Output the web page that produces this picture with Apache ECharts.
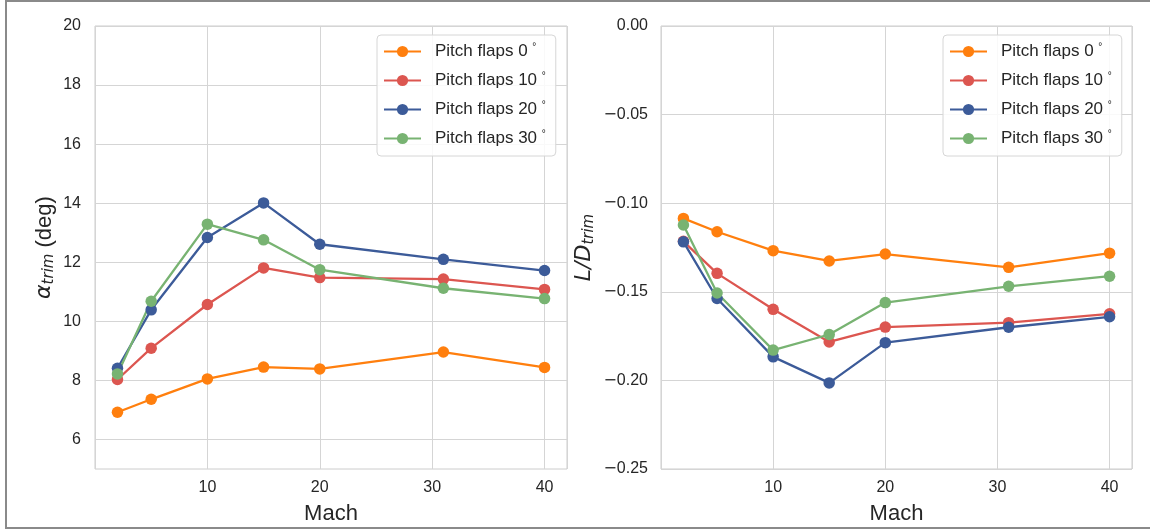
<!DOCTYPE html>
<html>
<head>
<meta charset="utf-8">
<script src="https://cdn.jsdelivr.net/npm/echarts@6/dist/echarts.min.js"></script>
<style>
  html, body { margin: 0; padding: 0; background: #fff; }
  #chart { width: 1150px; height: 531px; }
  #frame { position: absolute; left: 5px; top: 0; width: 1150px; height: 529px;
           border-top: 2px solid #8a8a8a; border-left: 2px solid #8a8a8a; border-bottom: 2px solid #8a8a8a;
           box-sizing: border-box; pointer-events: none; }
</style>
</head>
<body>
<div id="chart"></div>
<div id="frame"></div>
<script>
// ---- data ----
const mach = [2, 5, 10, 15, 20, 31, 40];
const seriesNames = ['Pitch flaps 0 °', 'Pitch flaps 10 °', 'Pitch flaps 20 °', 'Pitch flaps 30 °'];
const alpha0  = [6.92, 7.36, 8.05, 8.45, 8.39, 8.96, 8.44];
const alpha10 = [8.03, 9.09, 10.57, 11.81, 11.48, 11.43, 11.08];
const alpha20 = [8.41, 10.39, 12.84, 14.01, 12.61, 12.10, 11.72];
const alpha30 = [8.22, 10.68, 13.29, 12.76, 11.75, 11.12, 10.77];
const ld0  = [-0.1086, -0.1161, -0.1268, -0.1326, -0.1287, -0.1362, -0.1282];
const ld10 = [-0.1215, -0.1396, -0.1599, -0.1783, -0.1699, -0.1674, -0.1624];
const ld20 = [-0.1218, -0.1538, -0.1867, -0.2014, -0.1787, -0.1700, -0.1641];
const ld30 = [-0.1123, -0.1507, -0.1829, -0.1741, -0.1561, -0.1469, -0.1412];
const alphaTicks = [6, 8, 10, 12, 14, 16, 18, 20];
const machTicks = [10, 20, 30, 40];

// ---- styling ----
const colors = ['#ff7f0e', '#dc5650', '#3c5b99', '#78b372'];
const gridColor = '#d5d5d5';
const textColor = '#262626';
const font = 'Liberation Sans, Arial, sans-serif';
const mathFont = 'DejaVu Sans';

const alphaData = [alpha0, alpha10, alpha20, alpha30];
const ldData = [ld0, ld10, ld20, ld30];

function pairs(xs, ys) { return xs.map((x, i) => [x, ys[i]]); }

const xAxisBase = {
  type: 'value', min: 0, max: 42, interval: 10,
  name: 'Mach', nameLocation: 'middle', nameGap: 34,
  nameTextStyle: { fontFamily: font, fontSize: 22, color: textColor },
  axisLine: { show: false }, axisTick: { show: false },
  axisLabel: { fontFamily: font, fontSize: 16, color: textColor, margin: 11,
               formatter: v => (machTicks.indexOf(v) >= 0 ? String(v) : '') },
  splitLine: { show: true, lineStyle: { color: gridColor, width: 1 } }
};

const legendBase = {
  orient: 'vertical', top: 35,
  itemWidth: 37, itemHeight: 14, itemGap: 11,
  padding: [7, 10, 9, 6],
  backgroundColor: 'rgba(255,255,255,0.85)', borderColor: '#d6d6d6', borderWidth: 1, borderRadius: 4,
  textStyle: { fontFamily: font, fontSize: 17, color: textColor, padding: [0, 0, 0, 9],
               rich: { sup: { fontFamily: font, fontSize: 10, color: textColor, padding: [0, 0, 9, 0] } } },
  formatter: name => name.replace('°', '{sup|°}')
};

const series = [];
alphaData.forEach((d, i) => series.push({
  name: seriesNames[i], type: 'line', xAxisIndex: 0, yAxisIndex: 0,
  data: pairs(mach, d), symbol: 'circle', symbolSize: 11.5,
  color: colors[i], lineStyle: { width: 2.3, color: colors[i] }, itemStyle: { color: colors[i] }
}));
ldData.forEach((d, i) => series.push({
  name: seriesNames[i], type: 'line', xAxisIndex: 1, yAxisIndex: 1,
  data: pairs(mach, d), symbol: 'circle', symbolSize: 11.5,
  color: colors[i], lineStyle: { width: 2.3, color: colors[i] }, itemStyle: { color: colors[i] }
}));

const option = {
  animation: false,
  backgroundColor: '#ffffff',
  grid: [
    { left: 95, right: 583, top: 26, bottom: 62, show: true, borderColor: '#cccccc', borderWidth: 1, backgroundColor: 'transparent' },
    { left: 661, right: 18, top: 26, bottom: 62, show: true, borderColor: '#cccccc', borderWidth: 1, backgroundColor: 'transparent' }
  ],
  legend: [
    Object.assign({}, legendBase, { left: 377 }),
    Object.assign({}, legendBase, { left: 943 })
  ],
  xAxis: [
    Object.assign({}, xAxisBase, { gridIndex: 0 }),
    Object.assign({}, xAxisBase, { gridIndex: 1 })
  ],
  yAxis: [
    {
      type: 'value', gridIndex: 0, min: 5, max: 20,
      name: '{a|α}{s|trim}{b| (deg)}', nameLocation: 'middle', nameGap: 38, nameRotate: 90,
      nameTextStyle: { color: textColor, rich: {
        a: { fontFamily: mathFont, fontStyle: 'italic', fontSize: 22, color: textColor },
        s: { fontFamily: mathFont, fontStyle: 'italic', fontSize: 15, color: textColor, padding: [10, 0, 0, 0] },
        b: { fontFamily: font, fontSize: 22, color: textColor }
      } },
      axisLine: { show: false },
      axisTick: { show: false, customValues: alphaTicks },
      axisLabel: { fontFamily: font, fontSize: 16, color: textColor, margin: 14, customValues: alphaTicks },
      splitLine: { show: true, lineStyle: { color: gridColor, width: 1 } }
    },
    {
      type: 'value', gridIndex: 1, min: -0.25, max: 0, interval: 0.05,
      name: '{a|L/D}{s|trim}', nameLocation: 'middle', nameGap: 64, nameRotate: 90,
      nameTextStyle: { color: textColor, rich: {
        a: { fontFamily: mathFont, fontStyle: 'italic', fontSize: 22, color: textColor },
        s: { fontFamily: mathFont, fontStyle: 'italic', fontSize: 15, color: textColor, padding: [10, 0, 0, 0] }
      } },
      axisLine: { show: false }, axisTick: { show: false },
      axisLabel: { fontFamily: font, fontSize: 16, color: textColor, margin: 13,
                   formatter: v => {
                     const s = Math.abs(v).toFixed(2);
                     return v < -1e-9 ? '{m|\u2212}' + s : s;
                   },
                   rich: { m: { fontFamily: mathFont, fontSize: 16, color: textColor } } },
      splitLine: { show: true, lineStyle: { color: gridColor, width: 1 } }
    }
  ],
  series: series
};

const chart = echarts.init(document.getElementById('chart'), null, { renderer: 'canvas' });
chart.setOption(option);
</script>
</body>
</html>
